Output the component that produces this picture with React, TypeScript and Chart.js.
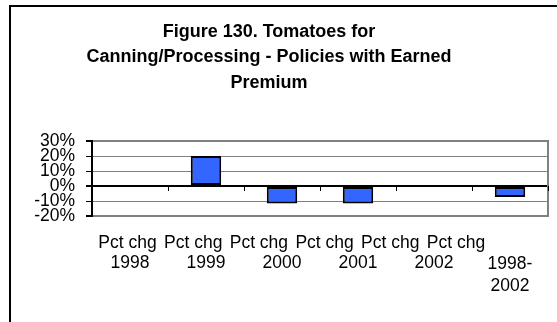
import React, { useEffect, useRef } from "react";
import { Chart, registerables } from "chart.js";

Chart.register(...registerables);

const titleLines = [
  "Figure 130. Tomatoes for",
  "Canning/Processing - Policies with Earned",
  "Premium",
];
const labelPrefix = "Pct chg";
const periods = ["1998", "1999", "2000", "2001", "2002", "1998-2002"];
const categories = periods.map((p) => `${labelPrefix} ${p}`);
const pctChange = [0, 20, -11.7, -11.7, 0, -7.3];
const yMin = -20;
const yMax = 30;
const yStep = 10;

const FONT = "'Liberation Sans', Arial, Helvetica, sans-serif";

const periodLines = (p: string) => {
  const parts = p.split("-");
  return parts.length > 1 ? [parts[0] + "-", parts[1]] : p;
};

const framePlugin = {
  id: "plotFrame",
  afterDraw(chart: any) {
    const { ctx, chartArea: a, scales } = chart;
    const xs = scales.x;
    const ys = scales.y;
    ctx.save();
    ctx.strokeStyle = "#808080";
    ctx.lineWidth = 2;
    ctx.beginPath();
    ctx.moveTo(a.right, a.top - 1);
    ctx.lineTo(a.right, a.bottom + 1);
    ctx.stroke();
    const y0 = Math.round(ys.getPixelForValue(0));
    const n = xs.ticks.length;
    const step = n > 1 ? xs.getPixelForValue(1) - xs.getPixelForValue(0) : xs.width;
    ctx.strokeStyle = "#000";
    ctx.lineWidth = 1;
    for (let i = 1; i <= n; i++) {
      const px = Math.round(xs.getPixelForValue(i) - step / 2) + 0.5;
      ctx.beginPath();
      ctx.moveTo(px, y0);
      ctx.lineTo(px, y0 + 5);
      ctx.stroke();
    }
    ctx.restore();
  },
};

export default function App() {
  const ref = useRef<HTMLCanvasElement | null>(null);

  useEffect(() => {
    if (!ref.current) return;
    const chart = new Chart(ref.current, {
      type: "bar",
      data: {
        labels: categories,
        datasets: [
          {
            data: pctChange,
            xAxisID: "x",
            yAxisID: "y",
            backgroundColor: "#3366FF",
            borderColor: "#000000",
            borderWidth: 2,
            borderSkipped: false,
            barPercentage: 0.4,
            categoryPercentage: 1,
          },
        ],
      },
      options: {
        responsive: false,
        animation: false,
        devicePixelRatio: 1,
        layout: { padding: { top: 0, left: 0, right: 9, bottom: 0 } },
        plugins: {
          legend: { display: false },
          tooltip: { enabled: false },
          title: {
            display: true,
            text: titleLines,
            color: "#000",
            font: { family: FONT, size: 18, weight: "bold", lineHeight: 25.5 / 18 },
            padding: { top: 19.25, bottom: 45.25 },
          },
        },
        scales: {
          x: {
            type: "category",
            position: "bottom",
            weight: 1,
            offset: true,
            grid: { display: false, offset: true },
            border: { display: false },
            ticks: {
              color: "#000",
              autoSkip: false,
              maxRotation: 0,
              minRotation: 0,
              padding: -9.5,
              font: (c: any) =>
                c.index === periods.length - 1
                  ? { family: FONT, size: 17.5, lineHeight: 22 / 17.5 }
                  : { family: FONT, size: 17.5, lineHeight: 19 / 17.5 },
              callback: (_v: any, i: number) => periodLines(periods[i]),
            },
            afterFit: (s: any) => {
              s.height = 67;
            },
          },
          xPrefix: {
            type: "linear",
            position: "bottom",
            weight: 0,
            offset: false,
            min: -0.54,
            max: 6.4,
            grid: { display: false, offset: false },
            border: { display: true, color: "#808080", width: 2 },
            afterBuildTicks: (s: any) => {
              s.ticks = periods.map((_, i) => ({ value: i }));
            },
            ticks: {
              color: "#000",
              autoSkip: false,
              maxRotation: 0,
              minRotation: 0,
              padding: 10,
              font: { family: FONT, size: 17.5, lineHeight: 19 / 17.5 },
              callback: () => labelPrefix,
            },
            afterFit: (s: any) => {
              s.height = 39;
            },
          },
          y: {
            min: yMin,
            max: yMax,
            grid: {
              display: true,
              color: (c: any) => (c.tick && c.tick.value === 0 ? "#000" : "#808080"),
              lineWidth: (c: any) =>
                c.tick && (c.tick.value === 0 || c.tick.value === yMax || c.tick.value === yMin) ? 2 : 1,
              tickColor: "#000",
              tickLength: 6,
              drawTicks: true,
            },
            border: { display: true, color: "#000", width: 2 },
            ticks: {
              stepSize: yStep,
              autoSkip: false,
              color: "#000",
              padding: 11,
              font: { family: FONT, size: 17.5, lineHeight: 1 },
              callback: (v: any) => `${v}%`,
            },
            afterFit: (s: any) => {
              s.width = 102;
            },
          },
        },
      } as any,
      plugins: [framePlugin],
    });
    return () => chart.destroy();
  }, []);

  return (
    <div
      style={{
        position: "absolute",
        left: 0,
        top: 0,
        width: 557,
        height: 322,
        overflow: "hidden",
        background: "#fff",
      }}
    >
      <div
        style={{
          position: "absolute",
          left: 9,
          top: 5,
          width: 560,
          height: 330,
          borderLeft: "2px solid #000",
          borderTop: "2px solid #000",
        }}
      />
      <canvas
        ref={ref}
        width={567}
        height={322}
        style={{ position: "absolute", left: -10, top: 0, width: 567, height: 322 }}
      />
    </div>
  );
}
